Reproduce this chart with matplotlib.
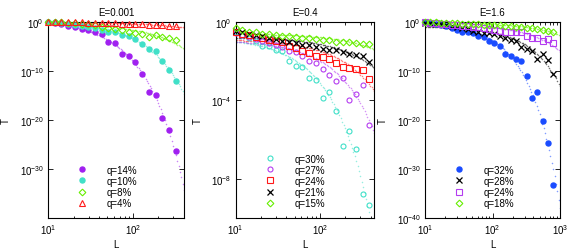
"""
Transmission T versus system length L at three energies, with linear fits
of log10(T) against L drawn as sampled dots.
"""
import matplotlib
matplotlib.use("Agg")
import matplotlib.pyplot as plt
from matplotlib.lines import Line2D
from matplotlib.ticker import FixedLocator, FuncFormatter, LogLocator, NullFormatter
import numpy as np

plt.rcParams["font.family"] = ["Liberation Sans", "DejaVu Sans"]
plt.rcParams["mathtext.fontset"] = "custom"
plt.rcParams["mathtext.rm"] = "Liberation Sans"
plt.rcParams["font.size"] = 7

# ── data (log10 T) ────────────────────────────────────────────────────────────
L_ALL = [10, 12, 14.4, 17.3, 20.7, 24.9, 29.9, 35.8, 43, 51.6, 61.9, 74.3, 89.2,
         107, 128, 154, 185, 222, 266, 319, 383, 460, 552, 662, 795]

# E = 0.001  (20 lengths)
e1_q14 = [-0.1, -0.3, -0.5, -0.8, -1.1, -1.4, -1.7, -2.0, -2.5, -4.1, -4.35, -6.6,
          -7.06, -8.3, -10.7, -14.4, -15.0, -19.65, -22.1, -26.4]
e1_q10 = [-0.05, -0.15, -0.3, -0.4, -0.6, -0.8, -1.0, -1.3, -1.6, -2.0, -2.1, -2.7,
          -3.0, -3.5, -4.6, -5.6, -5.9, -8.0, -9.9, -12.0]
e1_q8 = [0.0, -0.05, -0.1, -0.2, -0.3, -0.4, -0.55, -0.7, -1.0, -1.3, -1.45, -1.75,
         -2.15, -2.4, -2.6, -3.2, -2.8, -3.1, -3.4, -3.8]
e1_q4 = [0.0, -0.02, -0.05, -0.08, -0.1, -0.13, -0.17, -0.2, -0.25, -0.3, -0.35,
         -0.4, -0.45, -0.5, -0.55, -0.6, -0.65, -0.7, -0.8, -0.85]

# E = 0.4  (21 lengths)
e2_q30 = [-0.54, -0.7, -0.85, -1.0, -1.22, -1.25, -1.46, -1.5, -2.0, -2.28, -2.3,
          -2.86, -2.96, -3.88, -3.57, -4.56, -6.33, -5.57, -6.46, -8.78, -9.32]
e2_q27 = [-0.6, -0.7, -0.8, -0.9, -1.0, -1.1, -1.2, -1.3, -1.5, -1.55, -1.75, -2.0,
          -2.1, -2.4, -2.7, -3.0, -2.86, -3.98, -3.67, -3.2, -5.27]
e2_q24 = [-0.54, -0.62, -0.7, -0.78, -0.85, -0.92, -1.0, -1.05, -1.25, -1.36, -1.5,
          -1.6, -1.73, -1.8, -1.9, -2.1, -2.3, -2.35, -2.41, -2.48, -2.92]
e2_q21 = [-0.45, -0.55, -0.62, -0.7, -0.75, -0.85, -0.9, -0.98, -1.05, -1.1, -1.2,
          -1.2, -1.3, -1.37, -1.45, -1.45, -1.55, -1.62, -1.7, -1.75, -2.03]
e2_q15 = [-0.34, -0.44, -0.51, -0.54, -0.61, -0.64, -0.68, -0.71, -0.71, -0.78,
          -0.82, -0.85, -0.88, -0.92, -0.95, -1.02, -1.02, -1.05, -1.09, -1.12, -1.15]

# E = 1.6  (25 lengths)
e3_q32 = [-0.1, -0.25, -0.4, -0.6, -0.9, -1.3, -1.7, -2.05, -2.2, -2.35, -2.9, -3.1,
          -4.0, -4.3, -5.0, -6.5, -7.0, -7.5, -8.1, -11.0, -15.6, -14.4, -20.3,
          -24.8, -33.2]
e3_q28 = [-0.2, -0.3, -0.4, -0.55, -0.7, -0.9, -1.1, -1.3, -1.5, -1.8, -2.2, -2.3,
          -2.4, -2.6, -3.0, -3.3, -3.7, -3.9, -5.2, -5.5, -5.9, -7.5, -6.5, -7.9,
          -10.7]
e3_q24 = [-0.1, -0.2, -0.3, -0.4, -0.5, -0.6, -0.7, -0.8, -0.9, -1.0, -1.1, -1.2,
          -1.4, -1.6, -1.8, -2.0, -2.2, -2.1, -2.2, -3.0, -3.3, -3.3, -4.0, -3.5,
          -4.4]
e3_q18 = [0.0, -0.07, -0.13, -0.2, -0.25, -0.3, -0.35, -0.4, -0.45, -0.5, -0.55,
          -0.58, -0.6, -0.67, -0.73, -0.8, -0.9, -1.0, -1.1, -1.25, -1.35, -1.5,
          -1.65, -1.8, -2.0]

C_PURPLE = "#a020f0"
C_VIOLET = "#b43cf0"
C_CYAN = "#40e0c8"
C_GREEN = "#66ee00"
C_RED = "#ff1a1a"
C_BLUE = "#1a4cff"

# (label, values, color, marker, filled)
PANELS = [
    {
        "title": "E=0.001", "xmax": 400, "ymin": -40, "yticks": [0, -10, -20, -30],
        "series": [
            ("q=14%", e1_q14, C_PURPLE, "o", True),
            ("q=10%", e1_q10, C_CYAN, "o", True),
            ("q=8%", e1_q8, C_GREEN, "D", False),
            ("q=4%", e1_q4, C_RED, "^", False),
        ],
    },
    {
        "title": "E=0.4", "xmax": 440, "ymin": -10, "yticks": [0, -4, -8],
        "series": [
            ("q=30%", e2_q30, C_CYAN, "o", False),
            ("q=27%", e2_q27, C_VIOLET, "o", False),
            ("q=24%", e2_q24, C_RED, "s", False),
            ("q=21%", e2_q21, "black", "x", False),
            ("q=15%", e2_q15, C_GREEN, "D", False),
        ],
    },
    {
        "title": "E=1.6", "xmax": 1000, "ymin": -40, "yticks": [0, -10, -20, -30, -40],
        "series": [
            ("q=32%", e3_q32, C_BLUE, "o", True),
            ("q=28%", e3_q28, "black", "x", False),
            ("q=24%", e3_q24, C_VIOLET, "s", False),
            ("q=18%", e3_q18, C_GREEN, "D", False),
        ],
    },
]

AX_BOXES = [
    (48 / 572, 34 / 253, 136 / 572, 196.3 / 253),
    (235.7 / 572, 34 / 253, 138.6 / 572, 196.3 / 253),
    (425 / 572, 34 / 253, 135 / 572, 196.3 / 253),
]

MSIZE = {"o": 3.6, "D": 3.4, "^": 4.0, "s": 3.8, "x": 4.5}


def _pow10(v, _pos):
    e = int(round(np.log10(v)))
    return rf"$\mathregular{{10^{{{e}}}}}$"


fig = plt.figure(figsize=(5.72, 2.53), dpi=100)

for box, panel in zip(AX_BOXES, PANELS):
    ax = fig.add_axes(box)
    ax.set_xscale("log")
    ax.set_yscale("log")

    handles, labels = [], []
    for label, logT, color, marker, filled in panel["series"]:
        L = np.array(L_ALL[: len(logT)])
        T = 10.0 ** np.array(logT)

        # fit log10 T = a + b L, drawn as sampled dots like the original
        b, a = np.polyfit(L, logT, 1)
        xs = np.geomspace(10, panel["xmax"], 100)
        ax.plot(xs, 10.0 ** (a + b * xs), ls="none", marker="o", ms=1.1,
                mec="none", mfc=color, alpha=0.55)

        kw = dict(ls="none", marker=marker, ms=MSIZE[marker], clip_on=False,
                  zorder=3)
        if marker == "x":
            kw.update(color=color, mew=0.9)
        elif filled:
            kw.update(mfc=color, mec=color)
        else:
            kw.update(mfc="none", mec=color, mew=0.8)
        ax.plot(L, T, **kw)
        handles.append(Line2D([], [], **kw))
        labels.append(label)

    ax.set_xlim(10, panel["xmax"])
    ax.set_ylim(10.0 ** panel["ymin"], 1)

    ax.xaxis.set_major_locator(LogLocator(base=10, numticks=10))
    ax.xaxis.set_minor_locator(LogLocator(base=10, subs=np.arange(2, 10), numticks=20))
    ax.xaxis.set_major_formatter(FuncFormatter(_pow10))
    ax.xaxis.set_minor_formatter(NullFormatter())
    ax.yaxis.set_major_locator(FixedLocator([10.0 ** e for e in panel["yticks"]]))
    ax.yaxis.set_minor_locator(FixedLocator([]))
    ax.yaxis.set_major_formatter(FuncFormatter(_pow10))

    ax.tick_params(which="both", direction="in", top=True, right=True, width=0.6)
    ax.tick_params(which="major", length=3.5, pad=3)
    ax.tick_params(which="minor", length=1.8)
    for sp in ax.spines.values():
        sp.set_linewidth(0.8)

    ax.set_title(panel["title"], fontsize=7, pad=5)
    ax.set_xlabel("L", labelpad=2)
    ax.set_ylabel("T", labelpad=6)

    ax.legend(handles, labels, loc="lower left", bbox_to_anchor=(0.215, 0.05),
              frameon=False, handlelength=1.0, handletextpad=2.0,
              labelspacing=0.12, borderpad=0, borderaxespad=0, fontsize=7)

fig.savefig("out.png", dpi=100)
plt.close(fig)
